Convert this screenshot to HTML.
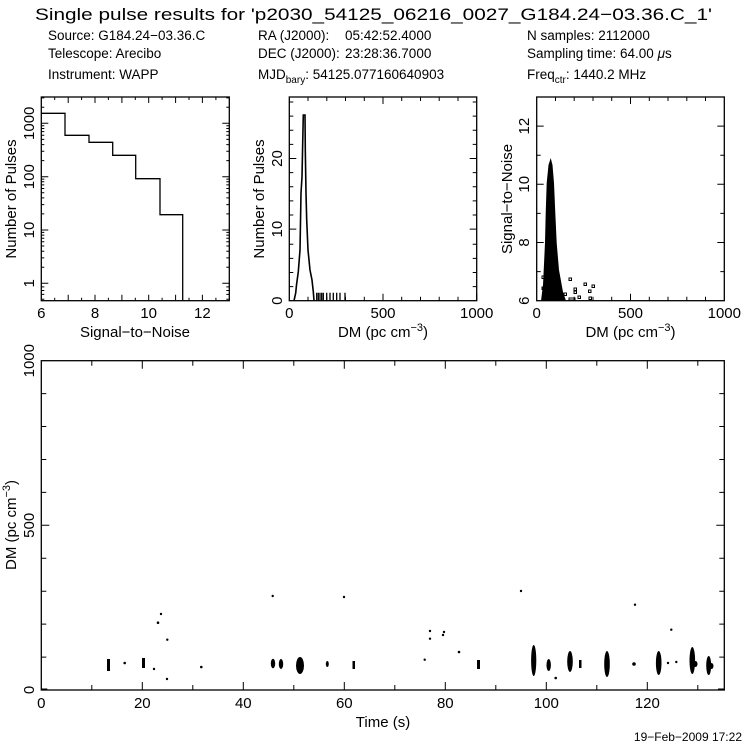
<!DOCTYPE html>
<html><head><meta charset="utf-8"><style>
html,body{margin:0;padding:0;background:#fff;}
svg{display:block;}
text{font-family:"Liberation Sans",sans-serif;fill:#000;}
</style></head><body>
<svg width="746" height="745" viewBox="0 0 746 745" xmlns="http://www.w3.org/2000/svg">
<g font-size="17"><text x="35" y="20" textLength="677" lengthAdjust="spacingAndGlyphs">Single pulse results for 'p2030_54125_06216_0027_G184.24−03.36.C_1'</text></g>
<g font-size="13.5">
<text x="48" y="40">Source: G184.24−03.36.C</text>
<text x="48" y="58">Telescope: Arecibo</text>
<text x="48" y="79">Instrument: WAPP</text>
<text x="258" y="40">RA (J2000):</text><text x="345" y="40">05:42:52.4000</text>
<text x="258" y="58">DEC (J2000):</text><text x="345" y="58">23:28:36.7000</text>
<text x="258" y="79">MJD<tspan font-size="10" dy="4">bary</tspan><tspan dy="-4">: 54125.077160640903</tspan></text>
<text x="527" y="40">N samples: 2112000</text>
<text x="527" y="58">Sampling time: 64.00 <tspan font-style="italic">μ</tspan>s</text>
<text x="527" y="79">Freq<tspan font-size="10" dy="4">ctr</tspan><tspan dy="-4">: 1440.2 MHz</tspan></text>
</g>

<g fill="none" stroke="#000" stroke-width="1.3">
<!-- panel boxes -->
<rect x="41.3" y="97" width="188" height="203.7"/>
<rect x="289.3" y="97" width="187.4" height="203.7"/>
<rect x="536.7" y="97" width="187.6" height="203.7"/>
<rect x="41.3" y="360.7" width="683" height="329.3"/>
<!-- panel1 histogram -->
<polyline points="41.3,113.3 65,113.3 65,135.3 89,135.3 89,142.3 112.7,142.3 112.7,155.3 135.7,155.3 135.7,178.7 160,178.7 160,214.7 182.7,214.7 182.7,300.7"/>
<!-- panel2 histogram -->
<polyline stroke-width="1.6" points="294,300.7 295.7,293 296.5,285 298.3,271.7 300,250 301,193 302,177 302.7,143 303.3,115 305,115 305.3,150 306,193 306.7,220 308,250 310,270 312,280 313.3,291.7 314,300.7"/>
<path d="M316.7 300.7V292.7M318.3 300.7V292.7M320 300.7V292.7M321.7 300.7V292.7M323.3 300.7V292.7M326.7 300.7V292.7M330 300.7V292.7M333.3 300.7V292.7M336.7 300.7V292.7M340 300.7V292.7M345 300.7V292.7"/>
</g>

<!-- ticks -->
<g stroke="#000" stroke-width="1" fill="none">
<!-- panel1 x ticks: 6..13, 26.86 px/unit -->
<path d="M68.2 300.7v-6M95 300.7v-6M121.9 300.7v-6M148.7 300.7v-6M175.6 300.7v-6M202.4 300.7v-6M68.2 97v6M95 97v6M121.9 97v6M148.7 97v6M175.6 97v6M202.4 97v6
M54.7 300.7v-3M81.6 300.7v-3M108.4 300.7v-3M135.3 300.7v-3M162.1 300.7v-3M189 300.7v-3M215.9 300.7v-3
M54.7 97v3M81.6 97v3M108.4 97v3M135.3 97v3M162.1 97v3M189 97v3M215.9 97v3"/>
<!-- panel1 log y ticks -->
<path id="logt" d="M41.3 283.3h7M41.3 230h7M41.3 176.7h7M41.3 123.3h7
M41.3 299.3h3M41.3 294.4h3M41.3 290.5h3M41.3 286.9h3
M41.3 267.2h3M41.3 257.9h3M41.3 251.2h3M41.3 246h3M41.3 241.8h3M41.3 238.2h3M41.3 235.1h3M41.3 232.4h3
M41.3 213.9h3M41.3 204.6h3M41.3 197.9h3M41.3 192.7h3M41.3 188.5h3M41.3 184.9h3M41.3 181.8h3M41.3 179.1h3
M41.3 160.6h3M41.3 151.3h3M41.3 144.6h3M41.3 139.4h3M41.3 135.2h3M41.3 131.6h3M41.3 128.5h3M41.3 125.8h3
M41.3 107.2h3M41.3 97.9h3"/>
<use href="#logt" transform="translate(270.6,0) scale(-1,1) translate(0,0)"/>
<!-- panel2 x ticks 0..1000, 0.1874/unit -->
<path d="M383 300.7v-7M476.7 300.7v-7M383 97v7M289.3 97v0
M308 300.7v-4M326.8 300.7v-4M345.5 300.7v-4M364.3 300.7v-4M401.7 300.7v-4M420.5 300.7v-4M439.2 300.7v-4M458 300.7v-4
M308 97v4M326.8 97v4M345.5 97v4M364.3 97v4M401.7 97v4M420.5 97v4M439.2 97v4M458 97v4"/>
<!-- panel2 y ticks: 7.06 px/unit -->
<path d="M289.3 229.1h7M289.3 158.5h7M476.7 229.1h-7M476.7 158.5h-7
M289.3 286.6h4M289.3 272.5h4M289.3 258.4h4M289.3 244.2h4M289.3 215h4M289.3 200.9h4M289.3 186.8h4M289.3 172.6h4M289.3 144.4h4M289.3 130.3h4M289.3 116.1h4M289.3 102h4
M476.7 286.6h-4M476.7 272.5h-4M476.7 258.4h-4M476.7 244.2h-4M476.7 215h-4M476.7 200.9h-4M476.7 186.8h-4M476.7 172.6h-4M476.7 144.4h-4M476.7 130.3h-4M476.7 116.1h-4M476.7 102h-4"/>
<!-- panel3 x ticks -->
<path d="M630.5 300.7v-7M630.5 97v7
M555.5 300.7v-4M574.2 300.7v-4M593 300.7v-4M611.7 300.7v-4M649.3 300.7v-4M668 300.7v-4M686.8 300.7v-4M705.5 300.7v-4
M555.5 97v4M574.2 97v4M593 97v4M611.7 97v4M649.3 97v4M668 97v4M686.8 97v4M705.5 97v4"/>
<!-- panel3 y ticks: 29.1/unit, 6 at 300.7 -->
<path d="M536.7 242.5h7M536.7 184.3h7M536.7 126.1h7M724.3 242.5h-7M724.3 184.3h-7M724.3 126.1h-7
M536.7 271.6h4M536.7 213.4h4M536.7 155.2h4M724.3 271.6h-4M724.3 213.4h-4M724.3 155.2h-4"/>
<!-- main x ticks: 5.05 px/s -->
<path d="M142.3 690v-8M243.3 690v-8M344.3 690v-8M445.3 690v-8M546.3 690v-8M647.3 690v-8
M142.3 360.7v8M243.3 360.7v8M344.3 360.7v8M445.3 360.7v8M546.3 360.7v8M647.3 360.7v8
M91.8 690v-5M192.8 690v-5M293.8 690v-5M394.8 690v-5M495.8 690v-5M596.8 690v-5M697.8 690v-5
M91.8 360.7v5M192.8 360.7v5M293.8 360.7v5M394.8 360.7v5M495.8 360.7v5M596.8 360.7v5M697.8 360.7v5"/>
<!-- main y ticks: 0.3293 px/DM -->
<path d="M41.3 525.3h8M724.3 525.3h-8
M41.3 657.1h5M41.3 624.1h5M41.3 591.2h5M41.3 558.3h5M41.3 492.4h5M41.3 459.5h5M41.3 426.5h5M41.3 393.6h5
M724.3 657.1h-5M724.3 624.1h-5M724.3 591.2h-5M724.3 558.3h-5M724.3 492.4h-5M724.3 459.5h-5M724.3 426.5h-5M724.3 393.6h-5"/>
</g>

<!-- panel3 blob and scatter -->
<polygon fill="#000" points="541,300.7 543,285 545,243 545.7,213 546.7,183 548.5,165 550.7,158 552.5,165 554,183 555.3,213 556.7,243 559,270 563,292 566,300.7"/>
<g fill="none" stroke="#000" stroke-width="1">
<rect x="564" y="293" width="2.5" height="2.5"/><rect x="569" y="278" width="2.5" height="2.5"/><rect x="574" y="288" width="2.5" height="2.5"/>
<rect x="574" y="291" width="2.5" height="2.5"/><rect x="578" y="296" width="2.5" height="2.5"/><rect x="584" y="283" width="2.5" height="2.5"/>
<rect x="588.5" y="290" width="2.5" height="2.5"/><rect x="592" y="285" width="2.5" height="2.5"/><rect x="589" y="297" width="2.5" height="2.5"/>
<rect x="542" y="276" width="2.5" height="2.5"/><rect x="542" y="287" width="2.5" height="2.5"/><rect x="569" y="298" width="6" height="2"/>
</g>

<!-- main scatter -->
<g fill="#000">
<rect x="107" y="659" width="3" height="12"/>
<circle cx="124.7" cy="663" r="1.3"/>
<rect x="142" y="658" width="3" height="10"/>
<circle cx="154" cy="669" r="1.2"/><circle cx="158" cy="622.7" r="1.3"/><circle cx="161" cy="614" r="1.2"/>
<circle cx="167.3" cy="639.7" r="1.2"/><circle cx="167" cy="679" r="1.2"/><circle cx="201.3" cy="667" r="1.3"/>
<circle cx="272.7" cy="596" r="1.2"/>
<ellipse cx="273" cy="663.5" rx="2.2" ry="4.8"/><ellipse cx="281" cy="664" rx="2.2" ry="5"/>
<ellipse cx="300" cy="665.5" rx="4" ry="8.5"/>
<ellipse cx="327.3" cy="664" rx="1.5" ry="3"/><circle cx="344" cy="597" r="1.2"/>
<rect x="352.5" y="661" width="2.5" height="8"/>
<circle cx="424.7" cy="659.7" r="1.2"/><circle cx="430" cy="631" r="1.2"/><circle cx="430" cy="638.7" r="1.2"/>
<circle cx="444" cy="632" r="1.2"/><circle cx="443" cy="635" r="1.2"/><circle cx="459" cy="652" r="1.3"/>
<rect x="477" y="660" width="3" height="9"/>
<circle cx="521" cy="591" r="1.2"/>
<ellipse cx="533.7" cy="660.5" rx="2.6" ry="15.5"/>
<ellipse cx="548.7" cy="665" rx="2.2" ry="6"/>
<circle cx="555.7" cy="678" r="1.3"/>
<ellipse cx="570" cy="661.5" rx="2.8" ry="10.5"/>
<rect x="579" y="660" width="2.5" height="8"/>
<ellipse cx="607" cy="664" rx="2.8" ry="13"/>
<circle cx="634" cy="664" r="1.8"/><circle cx="635" cy="604.7" r="1.2"/>
<ellipse cx="658.7" cy="663" rx="2.8" ry="12"/>
<circle cx="668" cy="663" r="1.2"/><circle cx="671.3" cy="629.7" r="1.2"/><circle cx="676.3" cy="662" r="1.2"/>
<ellipse cx="692.3" cy="660.5" rx="2.8" ry="13.5"/><ellipse cx="695.5" cy="664" rx="2" ry="3"/>
<ellipse cx="708.7" cy="665.5" rx="2.5" ry="9.5"/><ellipse cx="711.5" cy="666" rx="2" ry="3"/>
<rect x="41.3" y="688.5" width="6" height="2"/><rect x="718" y="688.5" width="6" height="2"/>
</g>

<!-- tick labels -->
<g font-size="15" text-anchor="middle">
<text x="41.3" y="318">6</text><text x="95" y="318">8</text><text x="148.7" y="318">10</text><text x="202.4" y="318">12</text>
<text x="289.3" y="318">0</text><text x="383" y="318">500</text><text x="476.7" y="318">1000</text>
<text x="536.7" y="318">0</text><text x="630.5" y="318">500</text><text x="724.3" y="318">1000</text>
<text x="41.3" y="708">0</text><text x="142.3" y="708">20</text><text x="243.3" y="708">40</text><text x="344.3" y="708">60</text><text x="445.3" y="708">80</text><text x="546.3" y="708">100</text><text x="647.3" y="708">120</text>
</g>
<g font-size="15" text-anchor="middle">
<text transform="translate(34,283.3) rotate(-90)">1</text>
<text transform="translate(34,230) rotate(-90)">10</text>
<text transform="translate(34,176.7) rotate(-90)">100</text>
<text transform="translate(34,123.3) rotate(-90)">1000</text>
<text transform="translate(282,300.7) rotate(-90)">0</text>
<text transform="translate(282,229.1) rotate(-90)">10</text>
<text transform="translate(282,158.5) rotate(-90)">20</text>
<text transform="translate(529,300.7) rotate(-90)">6</text>
<text transform="translate(529,242.5) rotate(-90)">8</text>
<text transform="translate(529,184.3) rotate(-90)">10</text>
<text transform="translate(529,126.1) rotate(-90)">12</text>
<text transform="translate(34,690) rotate(-90)">0</text>
<text transform="translate(34,525.3) rotate(-90)">500</text>
<text transform="translate(34,360.7) rotate(-90)">1000</text>
</g>
<!-- axis titles -->
<g font-size="15" text-anchor="middle">
<text x="135" y="337">Signal−to−Noise</text>
<text x="383" y="337">DM (pc cm<tspan font-size="11" dy="-6">−3</tspan><tspan dy="6">)</tspan></text>
<text x="630.5" y="337">DM (pc cm<tspan font-size="11" dy="-6">−3</tspan><tspan dy="6">)</tspan></text>
<text x="383" y="727">Time (s)</text>
<text transform="translate(16,199) rotate(-90)">Number of Pulses</text>
<text transform="translate(264,199) rotate(-90)">Number of Pulses</text>
<text transform="translate(512,199) rotate(-90)">Signal−to−Noise</text>
<text transform="translate(16,525) rotate(-90)">DM (pc cm<tspan font-size="11" dy="-6">−3</tspan><tspan dy="6">)</tspan></text>
</g>
<text x="742" y="741" font-size="12" text-anchor="end">19−Feb−2009 17:22</text>
</svg>
</body></html>
